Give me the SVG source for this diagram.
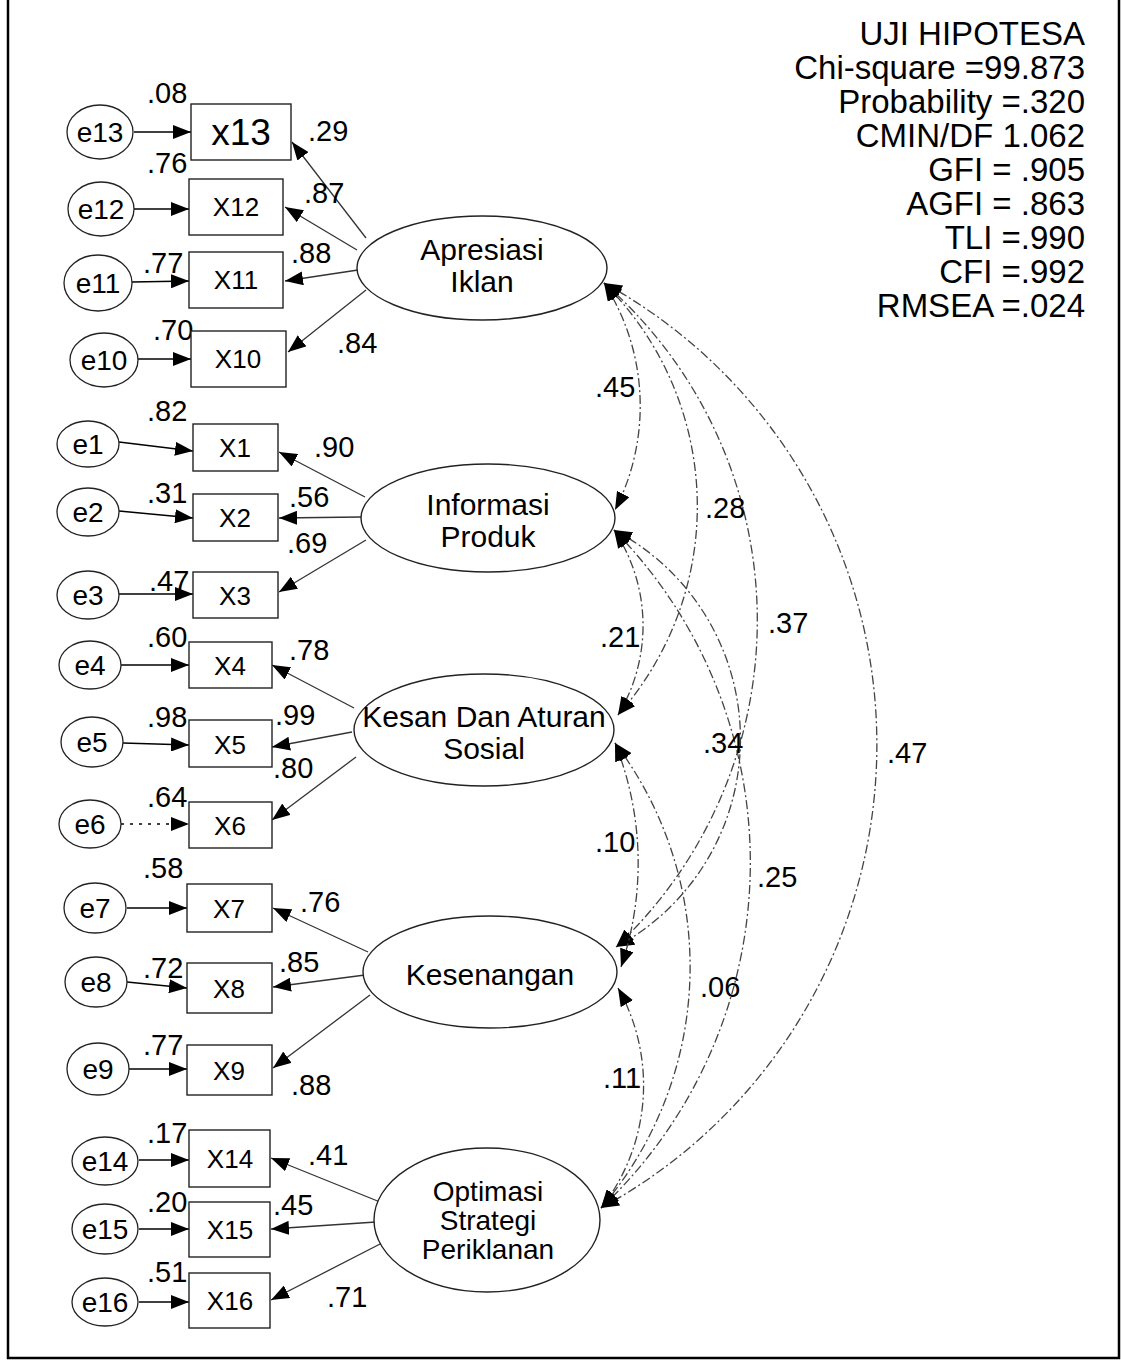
<svg xmlns="http://www.w3.org/2000/svg" width="1121" height="1361" viewBox="0 0 1121 1361">
<defs>
<marker id="ah" viewBox="0 0 18 14" refX="18" refY="7" markerWidth="18" markerHeight="14" markerUnits="userSpaceOnUse" orient="auto-start-reverse">
<path d="M0,0 L18,7 L0,14 z" fill="#000"/>
</marker>
<style>
.t{font-family:"Liberation Sans",Arial,sans-serif;fill:#000}
.lat{fill:#fff;stroke:#222;stroke-width:1.4}
.err{fill:#fff;stroke:#222;stroke-width:1.3}
.box{fill:#fff;stroke:#222;stroke-width:1.4}
.lv{font-size:30px;text-anchor:middle}
.ev{font-size:28px;text-anchor:middle}
.xv{font-size:26px;text-anchor:middle}
.num{font-size:29px}
.st{font-size:33px;text-anchor:end}
.ld{stroke:#333;stroke-width:1.3;fill:none;marker-end:url(#ah)}
.er{stroke:#000;stroke-width:1.5;fill:none;marker-end:url(#ah)}
.cv{stroke:#444;stroke-width:1.3;fill:none;stroke-dasharray:9 3 2 3;marker-start:url(#ah);marker-end:url(#ah)}
</style>
</defs>
<rect x="0" y="0" width="1121" height="1361" fill="#fff"/>
<path d="M8,0 L8,1358 L1119,1358 L1119,0" fill="none" stroke="#000" stroke-width="2.5"/>

<g id="connectors">
<line class="er" x1="134" y1="132" x2="191" y2="132"/>
<line class="er" x1="134" y1="209" x2="189" y2="209"/>
<line class="er" x1="132" y1="282" x2="189" y2="281"/>
<line class="er" x1="138" y1="359" x2="191" y2="359"/>
<line class="er" x1="119" y1="442" x2="193" y2="451"/>
<line class="er" x1="119" y1="511" x2="193" y2="518"/>
<line class="er" x1="119" y1="594" x2="193" y2="594"/>
<line class="er" x1="121" y1="665" x2="189" y2="665"/>
<line class="er" x1="123" y1="743" x2="189" y2="745"/>
<line class="er" x1="121" y1="824" x2="189" y2="824" stroke-dasharray="3 6"/>
<line class="er" x1="127" y1="908" x2="187" y2="908"/>
<line class="er" x1="127" y1="982" x2="187" y2="988"/>
<line class="er" x1="129" y1="1069" x2="187" y2="1069"/>
<line class="er" x1="139" y1="1160" x2="189" y2="1160"/>
<line class="er" x1="139" y1="1229" x2="189" y2="1229"/>
<line class="er" x1="139" y1="1302" x2="189" y2="1302"/>
<line class="ld" x1="366" y1="238" x2="292" y2="142"/>
<line class="ld" x1="357" y1="250" x2="285" y2="207"/>
<line class="ld" x1="358" y1="270" x2="285" y2="281"/>
<line class="ld" x1="366" y1="290" x2="288" y2="352"/>
<line class="ld" x1="365" y1="497" x2="279" y2="452"/>
<line class="ld" x1="361" y1="517" x2="279" y2="518"/>
<line class="ld" x1="366" y1="540" x2="279" y2="592"/>
<line class="ld" x1="354" y1="708" x2="272" y2="665"/>
<line class="ld" x1="352" y1="732" x2="272" y2="747"/>
<line class="ld" x1="356" y1="757" x2="272" y2="820"/>
<line class="ld" x1="368" y1="952" x2="273" y2="908"/>
<line class="ld" x1="365" y1="975" x2="273" y2="987"/>
<line class="ld" x1="370" y1="995" x2="273" y2="1068"/>
<line class="ld" x1="380" y1="1202" x2="271" y2="1158"/>
<line class="ld" x1="376" y1="1222" x2="271" y2="1229"/>
<line class="ld" x1="382" y1="1243" x2="271" y2="1300"/>
<path class="cv" d="M604,283 A227,227 0 0 1 615,510"/>
<path class="cv" d="M604,283 A314,314 0 0 1 618,715"/>
<path class="cv" d="M604,283 A448,448 0 0 1 616,947"/>
<path class="cv" d="M604,283 A527,527 0 0 1 601,1208"/>
<path class="cv" d="M614,530 A172,172 0 0 1 618,715"/>
<path class="cv" d="M614,530 A236,236 0 0 1 616,947"/>
<path class="cv" d="M614,530 A474,474 0 0 1 601,1208"/>
<path class="cv" d="M615,743 A323,323 0 0 1 621,967"/>
<path class="cv" d="M615,743 A371,371 0 0 1 601,1208"/>
<path class="cv" d="M618,988 A198,198 0 0 1 601,1208"/>
</g>

<g id="edge-labels" class="t num">
<text x="147" y="103">.08</text>
<text x="147" y="173">.76</text>
<text x="143" y="273">.77</text>
<text x="153" y="340">.70</text>
<text x="147" y="421">.82</text>
<text x="147" y="503">.31</text>
<text x="149" y="591">.47</text>
<text x="147" y="647">.60</text>
<text x="147" y="727">.98</text>
<text x="147" y="807">.64</text>
<text x="143" y="878">.58</text>
<text x="143" y="978">.72</text>
<text x="143" y="1055">.77</text>
<text x="147" y="1143">.17</text>
<text x="147" y="1212">.20</text>
<text x="147" y="1282">.51</text>
<text x="308" y="141">.29</text>
<text x="304" y="203">.87</text>
<text x="291" y="263">.88</text>
<text x="337" y="353">.84</text>
<text x="314" y="457">.90</text>
<text x="289" y="507">.56</text>
<text x="287" y="553">.69</text>
<text x="289" y="660">.78</text>
<text x="275" y="725">.99</text>
<text x="273" y="778">.80</text>
<text x="300" y="912">.76</text>
<text x="279" y="972">.85</text>
<text x="291" y="1095">.88</text>
<text x="308" y="1165">.41</text>
<text x="273" y="1215">.45</text>
<text x="327" y="1307">.71</text>
<text x="595" y="397">.45</text>
<text x="705" y="518">.28</text>
<text x="768" y="633">.37</text>
<text x="600" y="647">.21</text>
<text x="703" y="753">.34</text>
<text x="887" y="763">.47</text>
<text x="595" y="852">.10</text>
<text x="757" y="887">.25</text>
<text x="700" y="997">.06</text>
<text x="603" y="1088">.11</text>
</g>

<g id="apresiasi-iklan"><ellipse class="lat" cx="482" cy="268" rx="125" ry="52"/><text class="t lv" x="482" y="260">Apresiasi</text><text class="t lv" x="482" y="292">Iklan</text></g>
<g id="informasi-produk"><ellipse class="lat" cx="488" cy="518" rx="127" ry="54"/><text class="t lv" x="488" y="515">Informasi</text><text class="t lv" x="488" y="547">Produk</text></g>
<g id="kesan-dan-aturan-sosial"><ellipse class="lat" cx="484" cy="730" rx="130" ry="56"/><text class="t lv" x="484" y="727">Kesan Dan Aturan</text><text class="t lv" x="484" y="759">Sosial</text></g>
<g id="kesenangan"><ellipse class="lat" cx="490" cy="972" rx="127" ry="56"/><text class="t lv" x="490" y="985">Kesenangan</text></g>
<g id="optimasi-strategi-periklanan"><ellipse class="lat" cx="487" cy="1220" rx="113" ry="72"/><text class="t" x="488" y="1201" font-size="28" text-anchor="middle">Optimasi</text><text class="t" x="488" y="1230" font-size="28" text-anchor="middle">Strategi</text><text class="t" x="488" y="1259" font-size="28" text-anchor="middle">Periklanan</text></g>

<g id="e13"><ellipse class="err" cx="100" cy="132" rx="33" ry="27"/><text class="t ev" x="100" y="142">e13</text></g>
<g id="e12"><ellipse class="err" cx="101" cy="209" rx="33" ry="27"/><text class="t ev" x="101" y="219">e12</text></g>
<g id="e11"><ellipse class="err" cx="98" cy="283" rx="34" ry="28"/><text class="t ev" x="98" y="293">e11</text></g>
<g id="e10"><ellipse class="err" cx="104" cy="360" rx="34" ry="27"/><text class="t ev" x="104" y="370">e10</text></g>
<g id="e1"><ellipse class="err" cx="88" cy="444" rx="31" ry="23"/><text class="t ev" x="88" y="454">e1</text></g>
<g id="e2"><ellipse class="err" cx="88" cy="512" rx="31" ry="24"/><text class="t ev" x="88" y="522">e2</text></g>
<g id="e3"><ellipse class="err" cx="88" cy="595" rx="31" ry="24"/><text class="t ev" x="88" y="605">e3</text></g>
<g id="e4"><ellipse class="err" cx="90" cy="665" rx="31" ry="24"/><text class="t ev" x="90" y="675">e4</text></g>
<g id="e5"><ellipse class="err" cx="92" cy="742" rx="31" ry="25"/><text class="t ev" x="92" y="752">e5</text></g>
<g id="e6"><ellipse class="err" cx="90" cy="824" rx="31" ry="24"/><text class="t ev" x="90" y="834">e6</text></g>
<g id="e7"><ellipse class="err" cx="95" cy="908" rx="31" ry="25"/><text class="t ev" x="95" y="918">e7</text></g>
<g id="e8"><ellipse class="err" cx="96" cy="982" rx="31" ry="25"/><text class="t ev" x="96" y="992">e8</text></g>
<g id="e9"><ellipse class="err" cx="98" cy="1069" rx="31" ry="26"/><text class="t ev" x="98" y="1079">e9</text></g>
<g id="e14"><ellipse class="err" cx="105" cy="1161" rx="33" ry="24"/><text class="t ev" x="105" y="1171">e14</text></g>
<g id="e15"><ellipse class="err" cx="105" cy="1229" rx="33" ry="25"/><text class="t ev" x="105" y="1239">e15</text></g>
<g id="e16"><ellipse class="err" cx="105" cy="1302" rx="33" ry="24"/><text class="t ev" x="105" y="1312">e16</text></g>

<g id="X13"><rect class="box" x="191" y="104" width="100" height="56"/><text class="t" x="241" y="145" font-size="37" text-anchor="middle">x13</text></g>
<g id="X12"><rect class="box" x="189" y="179" width="94" height="56"/><text class="t xv" x="236" y="216">X12</text></g>
<g id="X11"><rect class="box" x="189" y="252" width="94" height="56"/><text class="t xv" x="236" y="289">X11</text></g>
<g id="X10"><rect class="box" x="191" y="331" width="95" height="56"/><text class="t xv" x="238" y="368">X10</text></g>
<g id="X1"><rect class="box" x="193" y="424" width="85" height="47"/><text class="t xv" x="235" y="457">X1</text></g>
<g id="X2"><rect class="box" x="193" y="494" width="85" height="47"/><text class="t xv" x="235" y="527">X2</text></g>
<g id="X3"><rect class="box" x="193" y="572" width="85" height="46"/><text class="t xv" x="235" y="605">X3</text></g>
<g id="X4"><rect class="box" x="189" y="642" width="83" height="46"/><text class="t xv" x="230" y="675">X4</text></g>
<g id="X5"><rect class="box" x="189" y="720" width="83" height="47"/><text class="t xv" x="230" y="754">X5</text></g>
<g id="X6"><rect class="box" x="189" y="802" width="83" height="46"/><text class="t xv" x="230" y="835">X6</text></g>
<g id="X7"><rect class="box" x="187" y="884" width="85" height="48"/><text class="t xv" x="229" y="918">X7</text></g>
<g id="X8"><rect class="box" x="187" y="963" width="85" height="50"/><text class="t xv" x="229" y="998">X8</text></g>
<g id="X9"><rect class="box" x="187" y="1045" width="85" height="50"/><text class="t xv" x="229" y="1080">X9</text></g>
<g id="X14"><rect class="box" x="189" y="1130" width="81" height="57"/><text class="t xv" x="230" y="1168">X14</text></g>
<g id="X15"><rect class="box" x="189" y="1202" width="81" height="55"/><text class="t xv" x="230" y="1239">X15</text></g>
<g id="X16"><rect class="box" x="189" y="1273" width="81" height="55"/><text class="t xv" x="230" y="1310">X16</text></g>

<g id="fit-statistics" class="t st">
<text x="1085" y="45">UJI HIPOTESA</text>
<text x="1085" y="79">Chi-square =99.873</text>
<text x="1085" y="113">Probability =.320</text>
<text x="1085" y="147">CMIN/DF 1.062</text>
<text x="1085" y="181">GFI = .905</text>
<text x="1085" y="215">AGFI = .863</text>
<text x="1085" y="249">TLI =.990</text>
<text x="1085" y="283">CFI =.992</text>
<text x="1085" y="317">RMSEA =.024</text>
</g>
</svg>
